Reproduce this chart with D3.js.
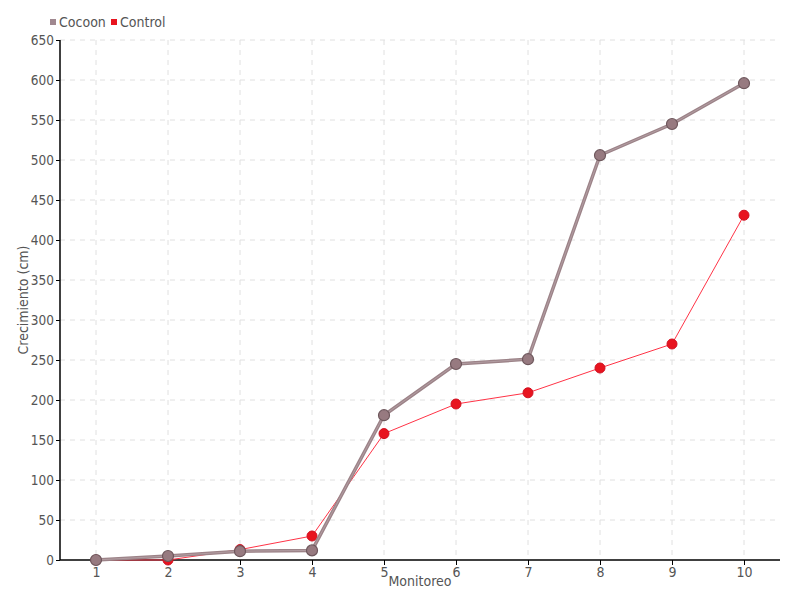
<!DOCTYPE html>
<html><head><meta charset="utf-8">
<script src="https://cdn.jsdelivr.net/npm/d3@7"></script>
<style>
body{margin:0;background:#fff;}
text{font-family:"Liberation Sans Narrow","DejaVu Sans Condensed","Roboto Condensed",sans-serif;fill:#555;}
</style></head>
<body><svg id="c" width="800" height="600"></svg>
<script>
const categories = ["1","2","3","4","5","6","7","8","9","10"];
const cocoon = [0, 5, 11, 12, 181, 245, 251, 506, 545, 596];
const control = [0, 0, 13, 30, 158, 195, 209, 240, 270, 431];
const yTicks = [0,50,100,150,200,250,300,350,400,450,500,550,600,650];
const seriesNames = ["Cocoon","Control"];

const svg = d3.select("#c");
const pL=60, pR=780, pT=40, pB=560;
const x = d3.scalePoint().domain(categories).range([pL,pR]).padding(0.5);
const y = d3.scaleLinear().domain([0,650]).range([pB,pT]);

// grid
const g = svg.append("g");
g.selectAll(".hg").data(yTicks.slice(1)).enter().append("line")
 .attr("x1",pL).attr("x2",pR).attr("y1",d=>y(d)).attr("y2",d=>y(d))
 .attr("stroke","#e0e0e0").attr("stroke-dasharray","5,5");
g.selectAll(".vg").data(categories).enter().append("line")
 .attr("x1",d=>x(d)).attr("x2",d=>x(d)).attr("y1",pT).attr("y2",pB)
 .attr("stroke","#e0e0e0").attr("stroke-dasharray","5,5");

// axes
const xa = svg.append("g").attr("transform",`translate(0,${pB})`)
 .call(d3.axisBottom(x).tickSize(5).tickPadding(2).tickSizeOuter(0));
const ya = svg.append("g").attr("transform",`translate(${pL},0)`)
 .call(d3.axisLeft(y).tickValues(yTicks).tickSize(4).tickPadding(2).tickSizeOuter(0));
[xa,ya].forEach(a=>{
 a.select(".domain").attr("stroke","#000").attr("stroke-width",1.5);
 a.selectAll(".tick line").attr("stroke","#000");
 a.selectAll("text").style("font-size","14px").attr("fill","#555");
});
ya.selectAll("text").style("font-size","13.5px");
xa.select(".domain").attr("d",`M${pL},0H${pR}`);
ya.select(".domain").attr("d",`M0,${pB}V${pT}`);
xa.selectAll("text").attr("dy","0.71em");

// axis titles
svg.append("text").attr("x",(pL+pR)/2).attr("y",586).attr("text-anchor","middle")
 .style("font-size","14px").attr("fill","#555").text("Monitoreo");
svg.append("text").attr("transform",`translate(28,${(pT+pB)/2}) rotate(-90)`)
 .attr("text-anchor","middle").style("font-size","14px").attr("fill","#555").text("Crecimiento (cm)");

const line = d3.line().x((d,i)=>x(categories[i])).y(d=>y(d));

// Control
svg.append("path").datum(control).attr("d",line).attr("fill","none")
 .attr("stroke","#ff3346").attr("stroke-width",1);
svg.selectAll(".pc").data(control).enter().append("circle")
 .attr("cx",(d,i)=>x(categories[i])).attr("cy",d=>y(d)).attr("r",5)
 .attr("fill","#e8141f").attr("stroke","#d01020").attr("stroke-width",1);

// Cocoon
svg.append("path").datum(cocoon).attr("d",line).attr("fill","none")
 .attr("stroke","#9c8388").attr("stroke-width",3.5);
svg.append("path").datum(cocoon).attr("d",line).attr("fill","none")
 .attr("stroke","#b8a3a8").attr("stroke-width",0.8);
svg.selectAll(".pk").data(cocoon).enter().append("circle")
 .attr("cx",(d,i)=>x(categories[i])).attr("cy",d=>y(d)).attr("r",5.5)
 .attr("fill","#977a80").attr("stroke","#6e575c").attr("stroke-width",1.2);

// legend
const leg = svg.append("g");
const colors = ["#a08890","#e8141f"];
const lx = [50, 111];
seriesNames.forEach((n,i)=>{
 leg.append("rect").attr("x",lx[i]).attr("y",19).attr("width",6).attr("height",6).attr("fill",colors[i]);
 leg.append("text").attr("x",lx[i]+9).attr("y",27).style("font-size","14px").attr("fill","#555").text(n);
});
</script></body></html>
